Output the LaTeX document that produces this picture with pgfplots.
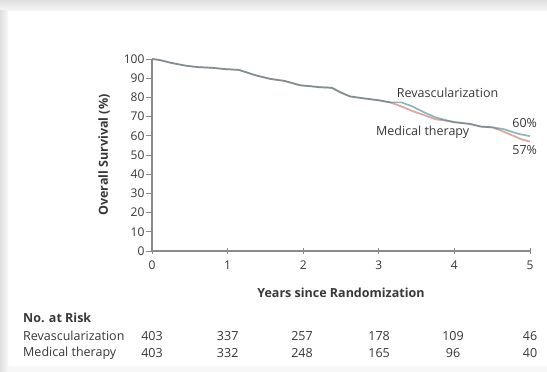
\documentclass[border=0pt]{standalone}
\usepackage{pgfplots}
\pgfplotsset{compat=1.18}
\usepackage{fontspec}
\setmainfont{Open Sans}
\definecolor{revc}{HTML}{2F7D8C}
\definecolor{medc}{HTML}{E0A49C}
\definecolor{axc}{HTML}{8A8A8A}
\definecolor{txt}{HTML}{383838}
\newcommand{\fs}{\fontsize{12.5}{14}\selectfont}
\begin{document}
\begin{tikzpicture}[x=1pt,y=1pt]
\path[use as bounding box] (0,0) rectangle (547,372);
\fill[white] (0,0) rectangle (547,372);
\shade[top color=gray!25,bottom color=gray!6] (0,361) rectangle (547,372);
\shade[left color=gray!25,right color=gray!6] (0,0) rectangle (8,361);
\fill[gray!6] (8,0) rectangle (547,6);
\begin{axis}[
  at={(152pt,121pt)}, anchor=south west,
  scale only axis, width=378pt, height=192pt,
  xmin=0, xmax=5, ymin=0, ymax=100,
  axis x line=bottom, axis y line=left,
  axis line style={-, axc, line width=1.2pt},
  xtick={0,1,2,3,4,5},
  ytick={0,10,...,100},
  tick style={axc, line width=0.9pt},
  major tick length=6pt,
  xtick align=center,
  ytick align=outside,
  tick label style={font=\fontsize{12}{13}\selectfont, text=txt},
  /pgf/number format/assume math mode=true,
  yticklabel style={xshift=2pt},
  xticklabel style={yshift=-3pt},
  ylabel={\bfseries Overall Survival (\%)},
  ylabel style={font=\fs, text=txt, at={(axis description cs:-0.127,0.5)}, anchor=center},
  xlabel={\bfseries Years since Randomization},
  xlabel style={font=\fs, text=txt, at={(axis description cs:0.5,0)}, anchor=center, yshift=-42pt},
  clip=false,
]
\addplot[medc, line width=1.7pt] coordinates {
(0,100) (0.1,99.5) (0.25,98) (0.45,96.5) (0.6,95.8) (0.8,95.4) (0.95,94.8) (1.15,94.3) (1.37,91.5) (1.57,89.6) (1.75,88.6) (1.96,86.3) (2.1,85.8) (2.22,85.3) (2.38,85.0) (2.5,82.5) (2.62,80.5) (2.8,79.5) (3.0,78.5) (3.15,77.4) (3.25,76) (3.32,75) (3.45,72.8) (3.6,70.8) (3.75,68.6) (3.9,67.8) (4.0,67.0) (4.2,66.2) (4.35,64.8) (4.5,64.4) (4.6,63) (4.75,60.5) (4.9,58) (5.0,57)
};
\addplot[revc, line width=1.7pt, opacity=0.55] coordinates {
(0,100) (0.1,99.5) (0.25,98) (0.45,96.5) (0.6,95.8) (0.8,95.4) (0.95,94.8) (1.15,94.3) (1.37,91.5) (1.57,89.6) (1.75,88.6) (1.96,86.3) (2.1,85.8) (2.22,85.3) (2.38,85.0) (2.5,82.5) (2.62,80.5) (2.8,79.5) (3.0,78.5) (3.15,77.4) (3.3,77.4) (3.45,75.2) (3.6,72.2) (3.75,69.6) (3.9,68.0) (4.0,67.2) (4.2,66.2) (4.35,64.8) (4.5,64.4) (4.65,63.5) (4.75,62.2) (4.85,61) (5.0,59.8)
};
\node[text=txt, font=\fs] at (axis cs:3.91,82.3) {Revascularization};
\node[text=txt, font=\fs] at (axis cs:3.58,62) {Medical therapy};
\node[text=txt, font=\fs] at (axis cs:4.93,66.7) {60\%};
\node[text=txt, font=\fs] at (axis cs:4.93,52.6) {57\%};
\end{axis}
\begin{scope}[font=\fs, text=txt]
\node[anchor=west, inner xsep=0pt] at (23,54) {\bfseries No. at Risk};
\node[anchor=west, inner xsep=0pt] at (23,36) {Revascularization};
\node[anchor=west, inner xsep=0pt] at (23,19) {Medical therapy};
\foreach \x/\a/\b in {152/403/403, 227.7/337/332, 302/257/248, 379.1/178/165, 453/109/96, 530/46/40} {
  \node at (\x,36) {\a};
  \node at (\x,19) {\b};
}
\end{scope}
\end{tikzpicture}
\end{document}
